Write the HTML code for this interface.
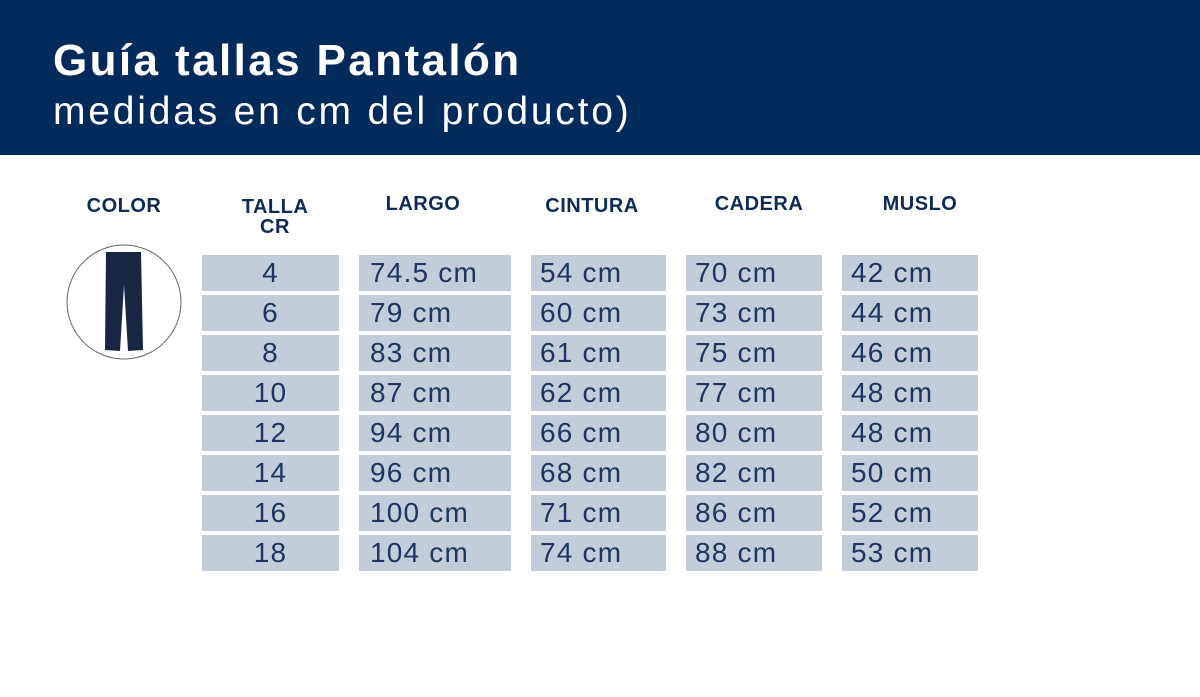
<!DOCTYPE html>
<html><head><meta charset="utf-8"><style>
body{margin:0;width:1200px;height:697px;background:#fff;position:relative;overflow:hidden;font-family:"Liberation Sans",sans-serif}
.hd{position:absolute;left:0;top:0;width:1200px;height:155px;background:#022a5a}
.t1{position:absolute;left:53px;top:36px;color:#fff;font-weight:bold;font-size:44px;letter-spacing:2.4px}
.t2{position:absolute;left:53px;top:90px;color:#fff;font-size:39px;font-weight:normal;letter-spacing:2.8px}
.h{position:absolute;color:#0e2a57;font-weight:bold;font-size:20px;text-align:center;line-height:20px;letter-spacing:0.5px}
.c{position:absolute;height:36px;background:#c3cdd9;color:#1d3560;font-size:28px;line-height:36px;box-sizing:border-box;letter-spacing:1.2px}
</style></head><body>
<div class="hd"></div>
<div class="t1">Guía tallas Pantalón</div>
<div class="t2">medidas en cm del producto)</div>
<div class="h" style="left:74px;top:196px;width:100px">COLOR</div>
<div class="h" style="left:225px;top:197px;width:100px">TALLA<br>CR</div>
<div class="h" style="left:373px;top:194px;width:100px">LARGO</div>
<div class="h" style="left:542px;top:196px;width:100px">CINTURA</div>
<div class="h" style="left:709px;top:194px;width:100px">CADERA</div>
<div class="h" style="left:870px;top:194px;width:100px">MUSLO</div>
<svg style="position:absolute;left:0;top:0" width="300" height="400">
<circle cx="124" cy="302" r="57" fill="#fff" stroke="#666" stroke-width="1"/>
<path d="M106 252 L141 252 L143 350 L128 351 L124 285 L120 351 L105 350 Z" fill="#1a2744"/>
</svg>
<div id="g"></div>
<script>
var d=[["4","74.5 cm","54 cm","70 cm","42 cm"],["6","79 cm","60 cm","73 cm","44 cm"],["8","83 cm","61 cm","75 cm","46 cm"],["10","87 cm","62 cm","77 cm","48 cm"],["12","94 cm","66 cm","80 cm","48 cm"],["14","96 cm","68 cm","82 cm","50 cm"],["16","100 cm","71 cm","86 cm","52 cm"],["18","104 cm","74 cm","88 cm","53 cm"]];
var cols=[[202,137],[359,152],[531,135],[686,136],[842,136]],h="";
d.forEach(function(r,i){var y=255+i*40;r.forEach(function(v,j){var s=j==0?"text-align:center;":"padding-left:"+(j==1?11:9)+"px;";
h+='<div class="c" style="left:'+cols[j][0]+'px;top:'+y+'px;width:'+cols[j][1]+'px;'+s+'">'+v+'</div>';});});
document.getElementById("g").innerHTML=h;
</script>
</body></html>
